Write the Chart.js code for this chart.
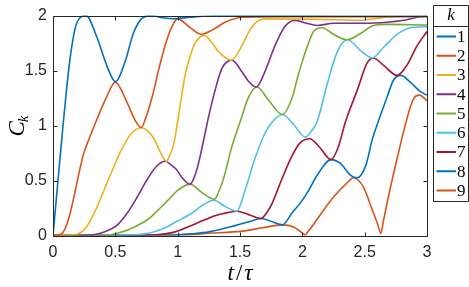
<!DOCTYPE html>
<html>
<head>
<meta charset="utf-8">
<script src="https://cdn.jsdelivr.net/npm/chart.js@4"></script>
<style>
html,body{margin:0;padding:0;background:#fff;}
canvas{display:block;}
</style>
</head>
<body>
<canvas id="c" width="469" height="287"></canvas>
<script>
// ---- data: [t/tau, C_k] pairs ----
const k1 = [[0,0],[0.04,0.5],[0.083,1.03],[0.137,1.61],[0.19,1.93],[0.265,2.0],[0.35,1.81],[0.43,1.55],[0.5,1.40],[0.578,1.58],[0.645,1.84],[0.725,1.985],[0.79,2.0],[0.88,1.98],[0.97,1.972],[1.1,1.985],[1.25,1.997],[1.5,2.0],[2.0,1.998],[2.5,1.995],[3.0,1.992]];
const k2 = [[0,0],[0.06,0.01],[0.1,0.07],[0.137,0.2],[0.217,0.61],[0.244,0.74],[0.297,0.9],[0.35,1.05],[0.43,1.26],[0.5,1.395],[0.59,1.22],[0.66,1.045],[0.707,0.98],[0.75,1.09],[0.8,1.28],[0.85,1.52],[0.9,1.73],[0.95,1.89],[1.0,1.97],[1.1,1.89],[1.19,1.83],[1.28,1.87],[1.38,1.94],[1.52,1.985],[1.8,1.99],[2.5,1.99],[3.0,1.995]];
const k3 = [[0,0],[0.15,0.004],[0.22,0.025],[0.27,0.08],[0.32,0.18],[0.38,0.33],[0.43,0.47],[0.49,0.63],[0.54,0.76],[0.63,0.93],[0.71,0.98],[0.76,0.95],[0.81,0.88],[0.86,0.76],[0.91,0.675],[0.94,0.74],[0.97,0.84],[1.006,1.08],[1.06,1.46],[1.1,1.63],[1.14,1.75],[1.215,1.82],[1.27,1.76],[1.33,1.67],[1.43,1.595],[1.515,1.725],[1.57,1.85],[1.62,1.93],[1.7,1.97],[2.0,1.968],[2.3,1.962],[2.45,1.958],[2.6,1.975],[2.7,1.99],[3.0,1.992]];
const k4 = [[0,0],[0.3,0.003],[0.38,0.02],[0.45,0.05],[0.51,0.09],[0.58,0.18],[0.645,0.29],[0.7,0.4],[0.75,0.5],[0.83,0.63],[0.9,0.675],[0.95,0.64],[0.99,0.6],[1.04,0.52],[1.1,0.467],[1.14,0.55],[1.17,0.67],[1.22,0.93],[1.25,1.09],[1.3,1.32],[1.355,1.52],[1.435,1.595],[1.515,1.49],[1.57,1.4],[1.63,1.35],[1.7,1.49],[1.78,1.725],[1.86,1.9],[1.94,1.957],[2.02,1.935],[2.12,1.91],[2.25,1.93],[2.5,1.93],[2.68,1.94],[2.8,1.955],[2.95,1.99],[3.0,1.993]];
const k5 = [[0,0],[0.45,0.005],[0.51,0.02],[0.6,0.05],[0.725,0.12],[0.78,0.163],[0.86,0.25],[0.913,0.31],[1.0,0.41],[1.1,0.467],[1.19,0.395],[1.295,0.33],[1.33,0.4],[1.37,0.525],[1.435,0.81],[1.5,1.03],[1.57,1.26],[1.636,1.35],[1.73,1.23],[1.84,1.1],[1.92,1.26],[1.96,1.43],[2.01,1.62],[2.04,1.72],[2.09,1.855],[2.16,1.89],[2.25,1.83],[2.36,1.78],[2.47,1.84],[2.57,1.91],[2.68,1.92],[3.0,1.915]];
const k6 = [[0,0],[0.6,0.003],[0.7,0.01],[0.8,0.03],[0.9,0.07],[0.98,0.12],[1.11,0.2],[1.22,0.29],[1.29,0.32],[1.38,0.265],[1.475,0.22],[1.54,0.41],[1.62,0.7],[1.7,0.93],[1.757,1.03],[1.84,1.1],[1.93,1.01],[2.024,0.895],[2.08,0.96],[2.12,1.04],[2.2,1.38],[2.28,1.67],[2.36,1.78],[2.47,1.68],[2.56,1.615],[2.65,1.71],[2.76,1.83],[2.87,1.89],[3.0,1.9]];
const k7 = [[0,0],[0.8,0.005],[0.9,0.015],[0.98,0.033],[1.14,0.105],[1.3,0.18],[1.41,0.21],[1.475,0.22],[1.57,0.19],[1.67,0.155],[1.71,0.2],[1.757,0.29],[1.84,0.525],[1.92,0.73],[1.98,0.84],[2.06,0.88],[2.14,0.8],[2.23,0.69],[2.29,0.81],[2.345,1.03],[2.44,1.32],[2.52,1.57],[2.57,1.615],[2.65,1.55],[2.76,1.456],[2.84,1.55],[2.92,1.725],[3.0,1.855]];
const k8 = [[0,0],[0.9,0.002],[1.0,0.006],[1.1,0.015],[1.25,0.033],[1.46,0.09],[1.6,0.135],[1.67,0.155],[1.757,0.126],[1.84,0.097],[1.92,0.21],[1.98,0.29],[2.04,0.39],[2.12,0.55],[2.23,0.69],[2.305,0.655],[2.385,0.55],[2.44,0.525],[2.51,0.64],[2.56,0.87],[2.61,1.04],[2.68,1.26],[2.73,1.41],[2.79,1.456],[2.87,1.39],[2.95,1.306],[3.0,1.277]];
const k9 = [[0,0],[1.0,0.002],[1.25,0.02],[1.52,0.04],[1.68,0.07],[1.84,0.097],[1.93,0.077],[1.98,0.04],[2.005,0.018],[2.024,0.003],[2.04,0.027],[2.07,0.07],[2.12,0.15],[2.25,0.35],[2.36,0.48],[2.41,0.525],[2.49,0.44],[2.56,0.236],[2.605,0.1],[2.63,0.02],[2.65,0.13],[2.69,0.35],[2.76,0.7],[2.835,1.045],[2.89,1.24],[2.94,1.277],[3.0,1.225]];

const seriesLabels = ['1','2','3','4','5','6','7','8','9'];
const seriesColors = ['#0072BD','#D95319','#EDB120','#7E2F8E','#77AC30','#4DBEEE','#A2142F','#0072BD','#D95319'];
const xTicks = [0,0.5,1,1.5,2,2.5,3];
const xTickLabels = ['0','0.5','1','1.5','2','2.5','3'];
const yTicks = [0,0.5,1,1.5,2];
const yTickLabels = ['0','0.5','1','1.5','2'];
const legendTitle = 'k';
const xTitleParts = ['t', '/', '\u03C4'];
const yTitleMain = 'C';
const yTitleSub = 'k';

const allSeries = [k1,k2,k3,k4,k5,k6,k7,k8,k9];
const AXC = '#262626';

const framePlugin = {
  id: 'frame',
  afterDraw(chart) {
    const ctx = chart.ctx;
    const a = chart.chartArea;
    const xs = chart.scales.x, ys = chart.scales.y;
    ctx.save();
    ctx.strokeStyle = AXC;
    ctx.lineWidth = 1;
    const L = Math.round(a.left)+0.5, R = Math.round(a.right)+0.5, T = Math.round(a.top)+0.5, B = Math.round(a.bottom)+0.5;
    ctx.beginPath();
    ctx.rect(L, T, R-L, B-T);
    const tl = 4;
    xTicks.forEach(v => {
      const px = Math.round(xs.getPixelForValue(v))+0.5;
      ctx.moveTo(px, B); ctx.lineTo(px, B-tl);
      ctx.moveTo(px, T); ctx.lineTo(px, T+tl);
    });
    yTicks.forEach(v => {
      const py = Math.round(ys.getPixelForValue(v))+0.5;
      ctx.moveTo(L, py); ctx.lineTo(L+tl, py);
      ctx.moveTo(R, py); ctx.lineTo(R-tl, py);
    });
    ctx.stroke();

    // x title: t / tau with small gaps (LaTeX style)
    ctx.fillStyle = '#000';
    ctx.textBaseline = 'alphabetic';
    ctx.textAlign = 'left';
    ctx.font = 'italic 23px "Liberation Serif"';
    const gap = 2;
    const ws = xTitleParts.map(p => ctx.measureText(p).width);
    const total = ws.reduce((s, w) => s + w, 0) + gap * (xTitleParts.length - 1);
    let xx = (a.left + a.right) / 2 - total / 2;
    xTitleParts.forEach((p, i) => {
      ctx.font = (p === '/' ? '23px' : 'italic 23px') + ' "Liberation Serif"';
      ctx.fillText(p, xx, 280);
      xx += ws[i] + gap;
    });

    // y title rotated
    ctx.save();
    ctx.translate(24, (a.top+a.bottom)/2);
    ctx.rotate(-Math.PI/2);
    ctx.font = 'italic 23px "Liberation Serif"';
    const wC = ctx.measureText(yTitleMain).width;
    ctx.font = 'italic 15px "Liberation Serif"';
    const wk = ctx.measureText(yTitleSub).width;
    const x0 = -(wC+wk)/2;
    ctx.textAlign = 'left';
    ctx.font = 'italic 23px "Liberation Serif"';
    ctx.fillText(yTitleMain, x0, 0);
    ctx.font = 'italic 15px "Liberation Serif"';
    ctx.fillText(yTitleSub, x0+wC-1, 4);
    ctx.restore();

    // legend box
    const lx0 = 433.5, lx1 = 468.5, ly0 = 5.5, ly1 = 201.5, sep = 26.5;
    ctx.fillStyle = '#fff';
    ctx.fillRect(lx0, ly0, lx1-lx0, ly1-ly0);
    ctx.strokeStyle = AXC;
    ctx.lineWidth = 1;
    ctx.beginPath();
    ctx.rect(lx0, ly0, lx1-lx0, ly1-ly0);
    ctx.moveTo(lx0, sep); ctx.lineTo(lx1, sep);
    ctx.stroke();
    ctx.fillStyle = '#000';
    ctx.textAlign = 'center';
    ctx.textBaseline = 'middle';
    ctx.font = 'italic 17px "Liberation Serif"';
    ctx.fillText(legendTitle, (lx0+lx1)/2, 16);
    chart.data.datasets.forEach((ds, i) => {
      const cy = 36.5 + i*19.25;
      ctx.strokeStyle = ds.borderColor;
      ctx.lineWidth = 2;
      ctx.beginPath();
      ctx.moveTo(436.5, cy); ctx.lineTo(456, cy);
      ctx.stroke();
      ctx.fillStyle = '#000';
      ctx.textAlign = 'left';
      ctx.font = '17px "Liberation Serif"';
      ctx.fillText(ds.label, 457, cy+1);
    });
    ctx.restore();
  }
};

new Chart(document.getElementById('c'), {
  type: 'line',
  data: {
    datasets: allSeries.map((s, i) => ({
      label: seriesLabels[i],
      data: s.map(p => ({x: p[0], y: p[1]})),
      borderColor: seriesColors[i],
      backgroundColor: seriesColors[i],
      borderWidth: 1.6,
      pointRadius: 0,
      fill: false,
      cubicInterpolationMode: 'monotone'
    }))
  },
  options: {
    responsive: false,
    animation: false,
    devicePixelRatio: 1,
    layout: {padding: {left: 0, right: 42, top: 5, bottom: 0}},
    plugins: {legend: {display: false}, tooltip: {enabled: false}},
    scales: {
      x: {
        type: 'linear', min: 0, max: 3,
        afterFit: s => { s.height = 51.5; },
        afterBuildTicks: s => { s.ticks = xTicks.map(v => ({value: v})); },
        ticks: {callback: (v, i) => xTickLabels[i], color: AXC, font: {family: '"Liberation Sans"', size: 16}, padding: 7, maxRotation: 0, autoSkip: false},
        grid: {display: false, drawTicks: false},
        border: {display: false}
      },
      y: {
        type: 'linear', min: 0, max: 2,
        afterFit: s => { s.width = 53; },
        afterBuildTicks: s => { s.ticks = yTicks.map(v => ({value: v})); },
        ticks: {callback: (v, i) => yTickLabels[i], color: AXC, font: {family: '"Liberation Sans"', size: 16}, padding: 6, autoSkip: false},
        grid: {display: false, drawTicks: false},
        border: {display: false}
      }
    }
  },
  plugins: [framePlugin]
});
</script>
</body>
</html>
